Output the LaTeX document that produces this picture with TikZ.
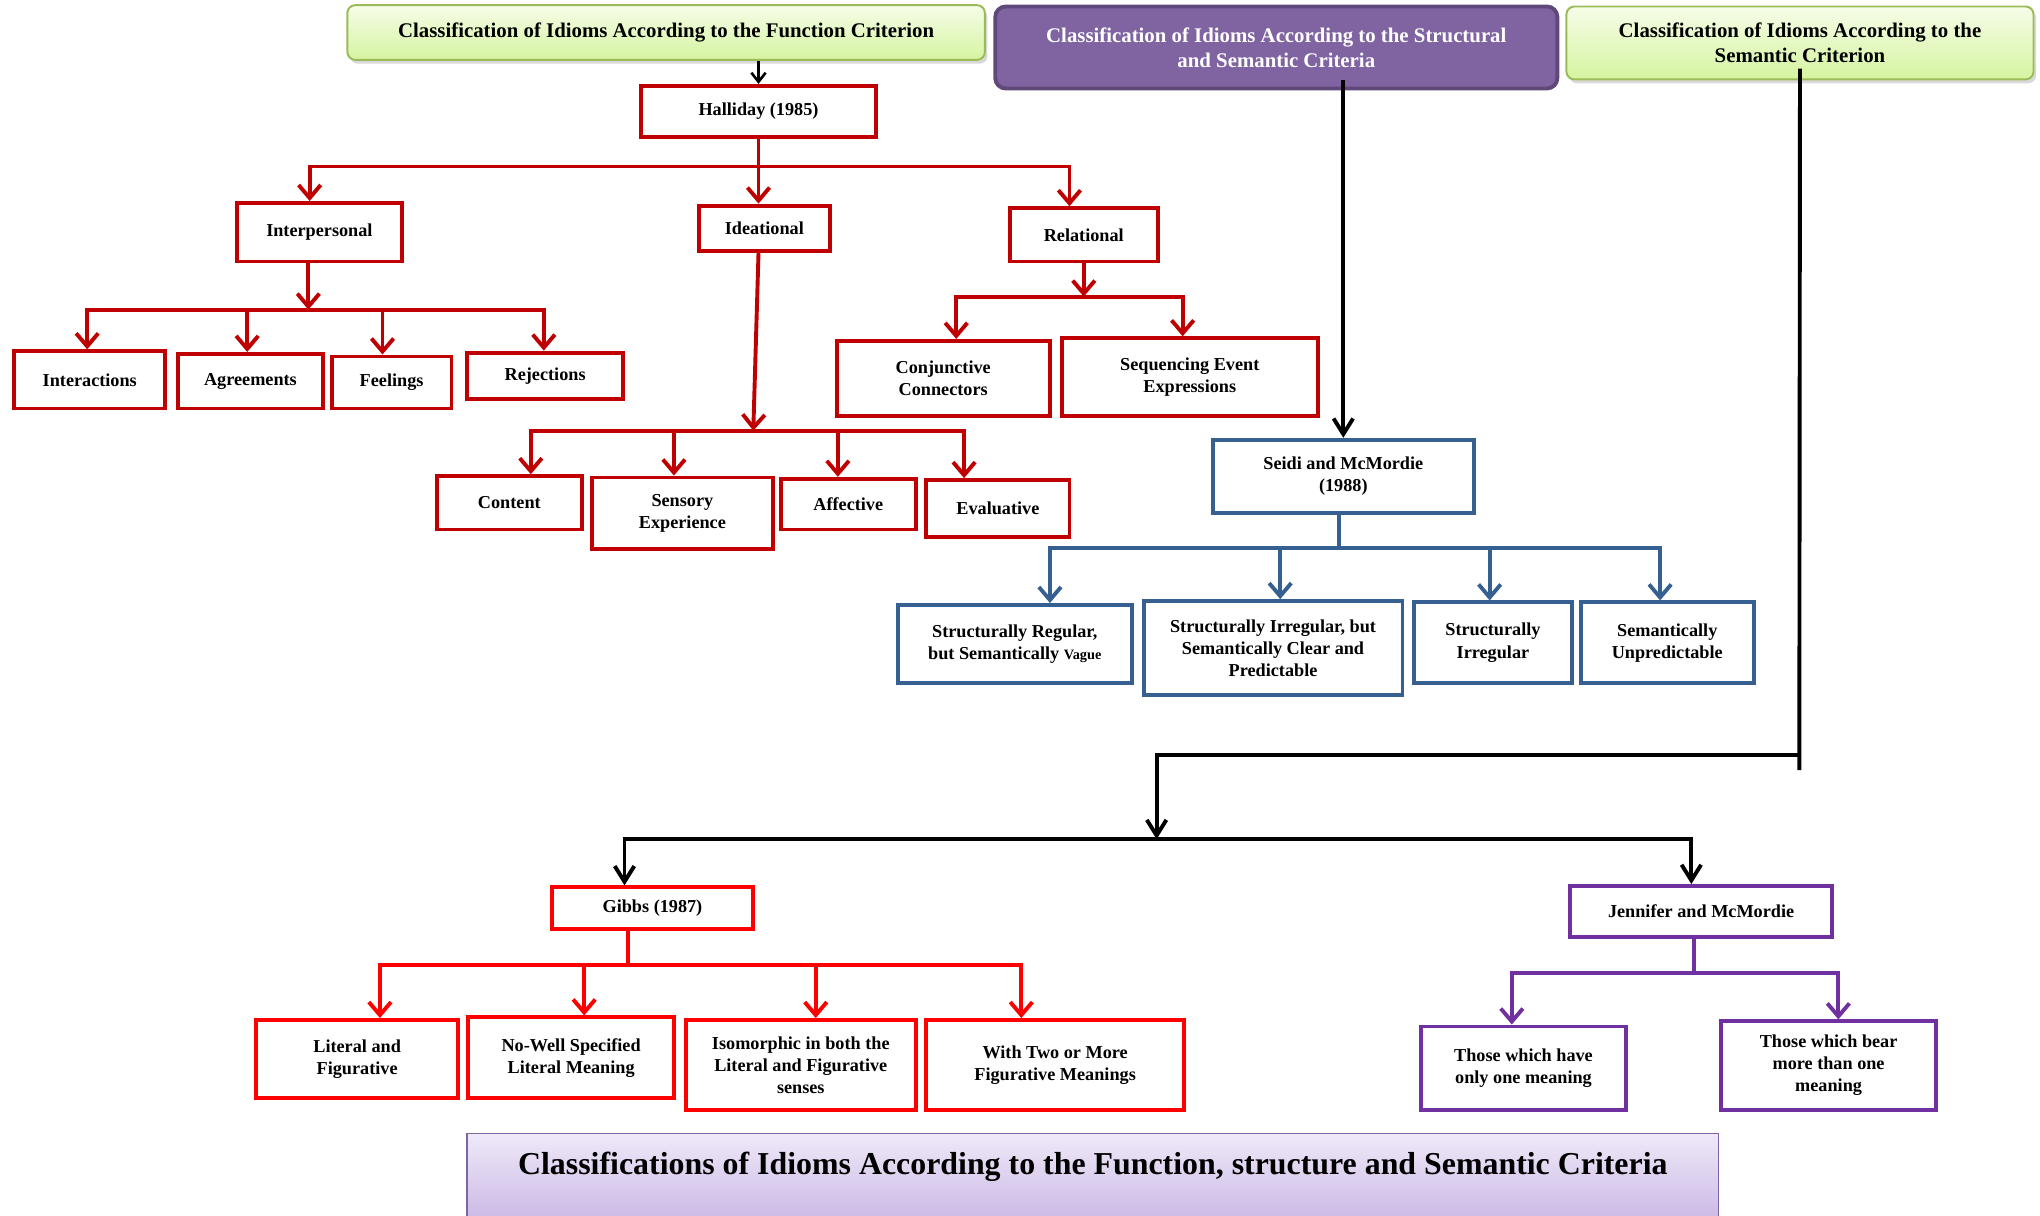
\documentclass[tikz,border=0pt]{standalone}
\usepackage{fontspec}
\setmainfont{Liberation Serif}
\usetikzlibrary{arrows.meta,shadows}

\definecolor{functionred}{HTML}{C00000}
\definecolor{gibbsred}{HTML}{FF0000}
\definecolor{seidiblue}{HTML}{376092}
\definecolor{jenpurple}{HTML}{7030A0}
\definecolor{headgreen}{HTML}{9BBB59}
\definecolor{greentop}{HTML}{F6FDE9}
\definecolor{greenbottom}{HTML}{D5F4A0}
\definecolor{headpurple}{HTML}{8064A2}
\definecolor{headpurpleedge}{HTML}{5F497A}
\definecolor{titletop}{HTML}{EFE9F8}
\definecolor{titlebottom}{HTML}{C5B1E2}

\begin{document}
\begin{tikzpicture}[x=1pt,y=-1pt,>={Straight Barb[length=10pt,width=17pt]}]

% --- Stijldefinities ---
\tikzset{
    basebox/.style={
        rectangle, fill=white, line width=3pt, align=center, inner sep=2pt,
        font=\bfseries\fontsize{14}{17}\selectfont
    },
    redbox/.style={basebox, draw=functionred},
    gibbsbox/.style={basebox, draw=gibbsred},
    bluebox/.style={basebox, draw=seidiblue},
    jenbox/.style={basebox, draw=jenpurple},
    greenhead/.style={
        rectangle, rounded corners=6pt, draw=headgreen, line width=1.5pt,
        top color=greentop, bottom color=greenbottom, align=center,
        font=\bfseries\fontsize{16}{19}\selectfont,
        drop shadow={shadow xshift=2pt, shadow yshift=-3pt, opacity=0.3}
    },
    purplehead/.style={
        rectangle, rounded corners=8pt, draw=headpurpleedge, line width=3pt,
        fill=headpurple, text=white, align=center,
        font=\bfseries\fontsize{16}{19}\selectfont
    },
    titlebar/.style={
        rectangle, draw=headpurple, line width=1pt,
        top color=titletop, bottom color=titlebottom,
        font=\bfseries\fontsize{24.5}{29}\selectfont,
        text height=26pt, text depth=40pt, inner ysep=6pt, inner xsep=0pt
    },
    redline/.style={draw=functionred, line width=3pt},
    redarrow/.style={redline, ->},
    gibbsline/.style={draw=gibbsred, line width=3pt},
    gibbsarrow/.style={gibbsline, ->},
    blueline/.style={draw=seidiblue, line width=3pt},
    bluearrow/.style={blueline, ->},
    jenline/.style={draw=jenpurple, line width=3pt},
    jenarrow/.style={jenline, ->},
    blackline/.style={draw=black, line width=3pt},
    blackarrow/.style={blackline, -{Straight Barb[length=12pt,width=15pt]}}
}

\useasboundingbox (0,0) rectangle (1568,934);

% --- Koppen ---
\node[greenhead, minimum width=490pt, minimum height=42pt] (fun) at (512,25)
    {Classification of Idioms According to the Function Criterion};
\node[purplehead, minimum width=432pt, minimum height=63pt] (struct) at (981,36.5)
    {Classification of Idioms According to the Structural\\and Semantic Criteria};
\node[greenhead, minimum width=359pt, minimum height=56pt] (sem) at (1383.5,33)
    {Classification of Idioms According to the\\Semantic Criterion};

% --- Functie (Halliday) ---
\node[redbox, minimum width=180pt, minimum height=39pt] (halliday) at (583,85.5) {Halliday (1985)};
\node[redbox, minimum width=127pt, minimum height=45pt] (interp) at (245.5,178.5) {Interpersonal};
\node[redbox, minimum width=101pt, minimum height=35pt] (idea) at (587.5,175.5) {Ideational};
\node[redbox, minimum width=114pt, minimum height=41pt] (rel) at (833,180.5) {Relational};

\node[redbox, minimum width=116pt, minimum height=44pt] (interactions) at (69,292) {Interactions};
\node[redbox, minimum width=111pt, minimum height=42pt] (agreements) at (192.5,293) {Agreements};
\node[redbox, minimum width=92pt, minimum height=40pt] (feelings) at (301,294) {Feelings};
\node[redbox, minimum width=120pt, minimum height=36pt] (rejections) at (419,289) {Rejections};

\node[redbox, minimum width=111pt, minimum height=41pt] (content) at (391.5,386.5) {Content};
\node[redbox, minimum width=139pt, minimum height=55pt] (sensory) at (524.5,394.5) {Sensory\\Experience};
\node[redbox, minimum width=104pt, minimum height=39pt] (affective) at (652,387.5) {Affective};
\node[redbox, minimum width=110pt, minimum height=44pt] (evaluative) at (767,391) {Evaluative};

\node[redbox, minimum width=164pt, minimum height=58pt] (conj) at (725,291) {Conjunctive\\Connectors};
\node[redbox, minimum width=197pt, minimum height=60pt] (seq) at (914.5,290) {Sequencing Event\\Expressions};

% --- Structuur (Seidi) ---
\node[bluebox, minimum width=201pt, minimum height=56pt] (seidi) at (1032.5,366) {Seidi and McMordie\\(1988)};
\node[bluebox, minimum width=180pt, minimum height=60pt] (regular) at (780,495)
    {Structurally Regular,\\but Semantically {\fontsize{11}{17}\selectfont Vague}};
\node[bluebox, minimum width=199pt, minimum height=72pt] (clear) at (978.5,498)
    {Structurally Irregular, but\\Semantically Clear and\\Predictable};
\node[bluebox, minimum width=121pt, minimum height=62pt] (irregular) at (1147.5,494) {Structurally\\Irregular};
\node[bluebox, minimum width=133pt, minimum height=62pt] (unpred) at (1281.5,494) {Semantically\\Unpredictable};

% --- Semantiek (Gibbs, Jennifer) ---
\node[gibbsbox, minimum width=155pt, minimum height=32pt] (gibbs) at (501.5,698) {Gibbs (1987)};
\node[gibbsbox, minimum width=155pt, minimum height=60pt] (literal) at (274.5,814) {Literal and\\Figurative};
\node[gibbsbox, minimum width=158pt, minimum height=62pt] (nowell) at (439,813) {No-Well Specified\\Literal Meaning};
\node[gibbsbox, minimum width=177pt, minimum height=69pt] (iso) at (615.5,818.5)
    {Isomorphic in both the\\Literal and Figurative\\senses};
\node[gibbsbox, minimum width=198pt, minimum height=69pt] (twomore) at (811,818.5)
    {With Two or More\\Figurative Meanings};

\node[jenbox, minimum width=201pt, minimum height=39pt] (jen) at (1307.5,700.5) {Jennifer and McMordie};
\node[jenbox, minimum width=158pt, minimum height=64pt] (one) at (1171,821) {Those which have\\only one meaning};
\node[jenbox, minimum width=165pt, minimum height=68pt] (more) at (1405.5,819)
    {Those which bear\\more than one\\meaning};

\node[titlebar, minimum width=962pt, anchor=base] (title) at (840,903)
    {Classifications of Idioms According to the Function, structure and Semantic Criteria};

% --- Pijlen: functie ---
\draw[blackline, line width=2pt, -{Straight Barb[length=7pt,width=11pt]}] (fun.south -| halliday.north) -- (halliday.north);

\coordinate (hbar) at (583,128);
\draw[redline] (halliday.south) -- (hbar);
\draw[redarrow] (hbar) -| ([xshift=-7.5pt]interp.north);
\draw[redarrow] (hbar) -| ([xshift=-4.5pt]idea.north);
\draw[redarrow] (hbar) -| ([xshift=-11pt]rel.north);

\coordinate (ibar) at (237,238);
\draw[redarrow] (interp.south -| ibar) -- (ibar);
\draw[redarrow] (ibar) -| ([xshift=-2pt]interactions.north);
\draw[redarrow] (ibar) -| ([xshift=-2.5pt]agreements.north);
\draw[redarrow] (ibar) -| ([xshift=-7pt]feelings.north);
\draw[redarrow] (ibar) -| ([xshift=-1pt]rejections.north);

\coordinate (dbar) at (579,331);
\draw[redarrow] ([xshift=-4.5pt]idea.south) -- (dbar);
\draw[redarrow] (dbar) -| ([xshift=16.5pt]content.north);
\draw[redarrow] (dbar) -| ([xshift=-6.5pt]sensory.north);
\draw[redarrow] (dbar) -| ([xshift=-8pt]affective.north);
\draw[redarrow] (dbar) -| ([xshift=-26pt]evaluative.north);

\coordinate (rbar) at (833,228);
\draw[redarrow] (rel.south) -- (rbar);
\draw[redarrow] (rbar) -| ([xshift=10pt]conj.north);
\draw[redarrow] (rbar) -| ([xshift=-5.5pt]seq.north);

% --- Pijlen: structuur ---
\draw[blackarrow] (struct.south -| seidi.north) ++(0,-8) -- (seidi.north);

\coordinate (sbar) at (1029,421);
\draw[blueline] (seidi.south -| sbar) -- (sbar);
\draw[bluearrow] (sbar) -| ([xshift=27pt]regular.north);
\draw[bluearrow] (sbar) -| ([xshift=5.5pt]clear.north);
\draw[bluearrow] (sbar) -| ([xshift=-2.5pt]irregular.north);
\draw[bluearrow] (sbar) -| ([xshift=-5.5pt]unpred.north);

% --- Pijlen: semantiek ---
\coordinate (semend) at (1383,592);
\coordinate (semjoin) at (889,580);
\coordinate (lowbar) at (889,645);
\draw[blackline] (sem.south) ++(0,-9) -- (semend);
\draw[blackarrow] (semend |- semjoin) -- (semjoin) -- (lowbar);
\draw[blackarrow] (lowbar) -| ([xshift=-21.5pt]gibbs.north);
\draw[blackarrow] (lowbar) -| ([xshift=-7.5pt]jen.north);

\coordinate (gbar) at (483,742);
\draw[gibbsline] (gibbs.south -| gbar) -- (gbar);
\draw[gibbsarrow] (gbar) -| ([xshift=17.5pt]literal.north);
\draw[gibbsarrow] (gbar) -| ([xshift=10pt]nowell.north);
\draw[gibbsarrow] (gbar) -| ([xshift=11.5pt]iso.north);
\draw[gibbsarrow] (gbar) -| ([xshift=-26pt]twomore.north);

\coordinate (jbar) at (1302,748);
\draw[jenline] (jen.south -| jbar) -- (jbar);
\draw[jenarrow] (jbar) -| ([xshift=-9pt]one.north);
\draw[jenarrow] (jbar) -| ([xshift=7.5pt]more.north);
\end{tikzpicture}
\end{document}
